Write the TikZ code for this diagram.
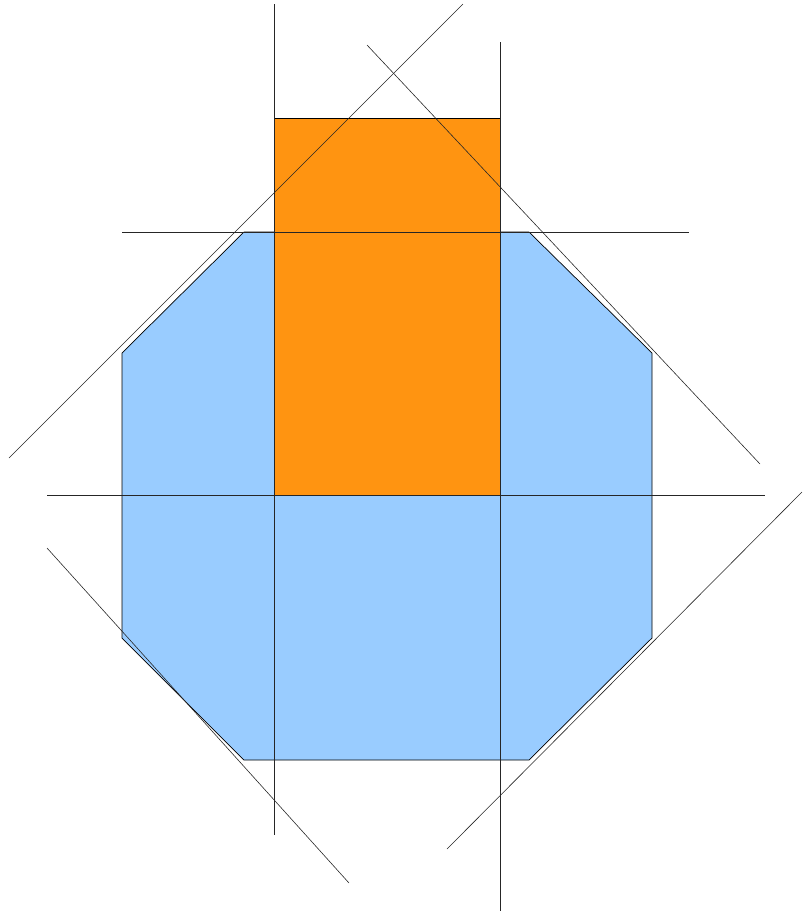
\documentclass[tikz,border=0pt]{standalone}
\usetikzlibrary{positioning}
\definecolor{octblue}{RGB}{153,204,255}
\definecolor{rectorange}{RGB}{255,148,17}

\begin{document}
\begin{tikzpicture}[x=0.03cm, y=-0.03cm, area/.style={draw=black, line width=0.6pt}, guide/.style={draw=black!85, line width=0.5pt}]
\useasboundingbox (0,0) rectangle (802,913);
% octagon
\coordinate (o1) at (244,232);
\coordinate (o2) at (529,232);
\coordinate (o3) at (652,353);
\coordinate (o4) at (652,638);
\coordinate (o5) at (529,760);
\coordinate (o6) at (244,760);
\coordinate (o7) at (122,638);
\coordinate (o8) at (122,353);
\filldraw[area, fill=octblue] (o1) -- (o2) -- (o3) -- (o4) -- (o5) -- (o6) -- (o7) -- (o8) -- cycle;
% rectangle
\coordinate (r1) at (274,118);
\coordinate (r2) at (500,495);
\filldraw[area, fill=rectorange] (r1) rectangle (r2);
% vertical and horizontal lines
\coordinate (v1a) at (274,4);
\coordinate (v1b) at (274,835);
\coordinate (v2a) at (500,42);
\coordinate (v2b) at (500,911);
\coordinate (h1a) at (122,232);
\coordinate (h1b) at (689,232);
\coordinate (h2a) at (47,495);
\coordinate (h2b) at (765,495);
\draw[guide] (v1a) -- (v1b);
\draw[guide] (v2a) -- (v2b);
\draw[guide] (h1a) -- (h1b);
\draw[guide] (h2a) -- (h2b);
% diagonal lines
\coordinate (d1a) at (9,458);
\coordinate (d1b) at (463,4);
\coordinate (d2a) at (367,45);
\coordinate (d2b) at (760,464);
\coordinate (d3a) at (47,548);
\coordinate (d3b) at (349,883);
\coordinate (d4a) at (447,849);
\coordinate (d4b) at (802,492);
\draw[guide] (d1a) -- (d1b);
\draw[guide] (d2a) -- (d2b);
\draw[guide] (d3a) -- (d3b);
\draw[guide] (d4a) -- (d4b);
\end{tikzpicture}
\end{document}
